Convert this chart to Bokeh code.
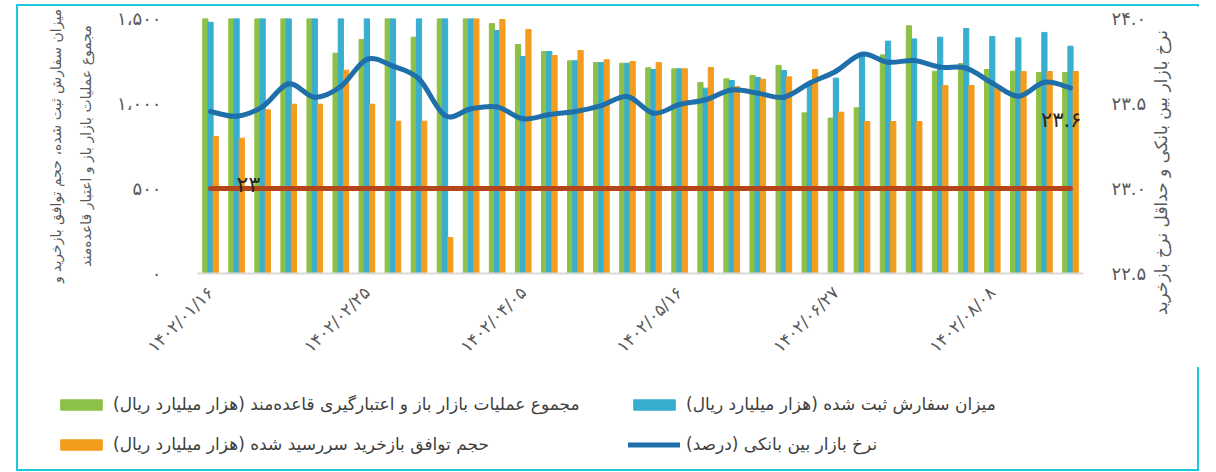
import math
from bokeh.plotting import figure
from bokeh.layouts import column, row
from bokeh.models import Range1d, LinearAxis, FixedTicker, Legend, LegendItem, ColumnDataSource, Label
from bokeh.transform import dodge
from bokeh.core.properties import value
from bokeh.embed import file_html
from bokeh.resources import INLINE

# ---------------- data ----------------
week_index = list(range(34))
tick_positions = [0, 6, 12, 18, 24, 30]
tick_labels = ["۱۴۰۲/۰۱/۱۶", "۱۴۰۲/۰۲/۲۵", "۱۴۰۲/۰۴/۰۵", "۱۴۰۲/۰۵/۱۶", "۱۴۰۲/۰۶/۲۷", "۱۴۰۲/۰۸/۰۸"]

open_market_ops = [1500, 1500, 1500, 1500, 1500, 1296, 1376, 1500, 1390, 1500, 1500, 1470,
                   1347, 1306, 1251, 1241, 1237, 1210, 1204, 1124, 1145, 1165, 1224, 945,
                   914, 975, 1286, 1457, 1190, 1235, 1200, 1190, 1182, 1182]
orders_registered = [1478, 1500, 1500, 1500, 1500, 1500, 1500, 1500, 1500, 1500, 1500, 1429,
                     1276, 1306, 1251, 1241, 1237, 1200, 1204, 1090, 1135, 1153, 1194, 1116,
                     1149, 1290, 1367, 1380, 1390, 1441, 1394, 1386, 1418, 1337]
repo_matured = [806, 796, 963, 996, 996, 1196, 996, 896, 896, 212, 1500, 1494,
                1435, 1282, 1312, 1257, 1247, 1241, 1204, 1212, 1100, 1143, 1157, 1200,
                949, 894, 894, 894, 1106, 1106, 1106, 1188, 1188, 1188]
interbank_rate = [23.453, 23.425, 23.482, 23.616, 23.537, 23.600, 23.760, 23.720, 23.645, 23.429,
                  23.469, 23.480, 23.410, 23.435, 23.453, 23.488, 23.541, 23.443, 23.494, 23.522,
                  23.580, 23.561, 23.537, 23.620, 23.690, 23.790, 23.743, 23.753, 23.714, 23.708,
                  23.620, 23.543, 23.625, 23.592]
min_repo_rate = [23.0, 23.0, 23.0, 23.0, 23.0, 23.0, 23.0, 23.0, 23.0, 23.0, 23.0, 23.0,
                 23.0, 23.0, 23.0, 23.0, 23.0, 23.0, 23.0, 23.0, 23.0, 23.0, 23.0, 23.0,
                 23.0, 23.0, 23.0, 23.0, 23.0, 23.0, 23.0, 23.0, 23.0, 23.0]

left_ticks = [0, 500, 1000, 1500]
left_tick_labels = ["۰", "۵۰۰", "۱،۰۰۰", "۱،۵۰۰"]
right_ticks = [22.5, 23.0, 23.5, 24.0]
right_tick_labels = ["۲۲.۵", "۲۳.۰", "۲۳.۵", "۲۴.۰"]

name_green = "مجموع عملیات بازار باز و اعتبارگیری قاعده‌مند (هزار میلیارد ریال)"
name_blue = "میزان سفارش ثبت شده (هزار میلیارد ریال)"
name_orange = "حجم توافق بازخرید سررسید شده (هزار میلیارد ریال)"
name_line = "نرخ بازار بین بانکی (درصد)"
left_title_1 = "میزان سفارش ثبت شده، حجم توافق بازخرید و"
left_title_2 = "مجموع عملیات بازار باز و اعتبار قاعده‌مند"
right_title = "نرخ بازار بین بانکی و حداقل نرخ بازخرید"
red_label_index = 1
red_label_text = "۲۳"
line_label_index = 33
line_label_text = "۲۳.۶"

# ---------------- styles ----------------
GREEN = "#8DC046"
BLUE = "#38AED0"
ORANGE = "#F39C1E"
LINE_BLUE = "#1F6FAB"
RED = "#B5461A"
TEXT = "#595959"
FONT = "DejaVu Sans"

src = ColumnDataSource(dict(x=week_index, g=open_market_ops, b=orders_registered, o=repo_matured,
                            r=interbank_rate, m=min_repo_rate))

p = figure(width=1132, height=361, output_backend="svg", toolbar_location=None,
           x_range=Range1d(-0.5, 33.5), y_range=Range1d(0, 1500),
           min_border_left=179, min_border_right=67, min_border_top=12, min_border_bottom=94)
p.extra_y_ranges = {"right": Range1d(22.5, 24.0)}
p.outline_line_color = None
p.xgrid.visible = False
p.ygrid.visible = False
p.background_fill_color = "white"

w = 0.2
p.vbar(x=dodge("x", -w, range=p.x_range), top="g", width=w, source=src, color=GREEN)
p.vbar(x=dodge("x", 0, range=p.x_range), top="b", width=w, source=src, color=BLUE)
p.vbar(x=dodge("x", w, range=p.x_range), top="o", width=w, source=src, color=ORANGE)

p.line("x", "m", source=src, y_range_name="right", line_color=RED, line_width=5, line_cap="round")

# smooth line (Catmull-Rom drawn as Bezier segments through the data points)
n = len(week_index)
bz = dict(x0=[], y0=[], x1=[], y1=[], cx0=[], cy0=[], cx1=[], cy1=[])
for i in range(n - 1):
    xa, ya = week_index[i], interbank_rate[i]
    xb, yb = week_index[i + 1], interbank_rate[i + 1]
    xp, yp = (week_index[i - 1], interbank_rate[i - 1]) if i > 0 else (xa, ya)
    xn, yn = (week_index[i + 2], interbank_rate[i + 2]) if i + 2 < n else (xb, yb)
    bz["x0"].append(xa); bz["y0"].append(ya)
    bz["x1"].append(xb); bz["y1"].append(yb)
    bz["cx0"].append(xa + (xb - xp) / 6); bz["cy0"].append(ya + (yb - yp) / 6)
    bz["cx1"].append(xb - (xn - xa) / 6); bz["cy1"].append(yb - (yn - ya) / 6)
p.bezier(source=ColumnDataSource(bz), x0="x0", y0="y0", x1="x1", y1="y1",
         cx0="cx0", cy0="cy0", cx1="cx1", cy1="cy1", y_range_name="right",
         line_color=LINE_BLUE, line_width=5, line_cap="round")

# data labels
p.text(x=[week_index[red_label_index]], y=[min_repo_rate[red_label_index]], text=[red_label_text],
       y_range_name="right", text_align="left", text_baseline="middle", y_offset=-4,
       text_font=value(FONT), text_font_size="22px", text_color="#262626")
p.text(x=[week_index[line_label_index]], y=[interbank_rate[line_label_index]], text=[line_label_text],
       y_range_name="right", text_align="right", text_baseline="middle", x_offset=11, y_offset=32,
       text_font=value(FONT), text_font_size="21px", text_color="#262626")

# axes
xa_ = p.xaxis[0]
xa_.ticker = FixedTicker(ticks=tick_positions)
xa_.major_label_overrides = {t: l for t, l in zip(tick_positions, tick_labels)}
xa_.major_label_orientation = math.pi / 4
xa_.axis_line_color = "#D9D9D9"
xa_.axis_line_width = 2
xa_.major_tick_line_color = None
xa_.minor_tick_line_color = None
xa_.major_label_standoff = 10
xa_.major_label_text_font = FONT
xa_.major_label_text_font_size = "17px"
xa_.major_label_text_color = TEXT

ya_ = p.yaxis[0]
ya_.ticker = FixedTicker(ticks=left_ticks)
ya_.major_label_overrides = {t: l for t, l in zip(left_ticks, left_tick_labels)}
ya_.axis_line_color = None
ya_.major_tick_line_color = None
ya_.minor_tick_line_color = None
ya_.major_label_standoff = 30
ya_.major_label_text_font = FONT
ya_.major_label_text_font_size = "18px"
ya_.major_label_text_color = TEXT
ya_.axis_label = left_title_1 + "\n" + left_title_2
ya_.axis_label_standoff = 20
ya_.axis_label_text_font = FONT
ya_.axis_label_text_font_size = "14px"
ya_.axis_label_text_font_style = "normal"
ya_.axis_label_text_color = TEXT
ya_.axis_label_text_line_height = 1.9

ra = LinearAxis(y_range_name="right", ticker=FixedTicker(ticks=right_ticks))
ra.major_label_overrides = {t: l for t, l in zip(right_ticks, right_tick_labels)}
ra.axis_line_color = None
ra.major_tick_line_color = None
ra.minor_tick_line_color = None
ra.major_label_standoff = 22
ra.major_label_text_font = FONT
ra.major_label_text_font_size = "18px"
ra.major_label_text_color = TEXT
p.add_layout(ra, "right")

# right-hand axis title in its own narrow strip (reads bottom-to-top like the left title)
r = figure(width=51, height=361, output_backend="svg", toolbar_location=None,
           x_axis_location=None, y_axis_location=None,
           x_range=Range1d(0, 1), y_range=Range1d(0, 1),
           min_border_left=0, min_border_right=0, min_border_top=0, min_border_bottom=0)
r.outline_line_color = None
r.xgrid.visible = False
r.ygrid.visible = False
r.add_layout(Label(x=10, y=195, x_units="screen", y_units="screen", text=right_title,
                   angle=math.pi / 2, text_align="center", text_baseline="middle",
                   text_font=FONT, text_font_size="17px", text_color=TEXT))

# legend strip under the chart (its own frame spans the whole strip)
q = figure(width=1183, height=102, output_backend="svg", toolbar_location=None,
           x_axis_location=None, y_axis_location=None,
           x_range=Range1d(-0.5, 33.5), y_range=Range1d(5000, 6000),
           min_border_left=0, min_border_right=0, min_border_top=0, min_border_bottom=0)
for fig in (p, q, r):
    try:
        fig.frame_align = False
    except Exception:
        pass
q.outline_line_color = None
q.xgrid.visible = False
q.ygrid.visible = False
lg_g = q.vbar(x="x", top="g", width=w, source=src, color=GREEN)
lg_b = q.vbar(x="x", top="b", width=w, source=src, color=BLUE)
lg_o = q.vbar(x="x", top="o", width=w, source=src, color=ORANGE)
lg_l = q.line(x="x", y="r", source=src, line_color=LINE_BLUE, line_width=5, line_cap="round")


def make_legend(items, vx):
    lg = Legend(items=items, location=(vx, 15), orientation="vertical",
                glyph_width=52, glyph_height=13, label_height=20, spacing=20,
                label_standoff=6, padding=0, margin=0,
                border_line_color=None, background_fill_alpha=0,
                label_text_font=FONT, label_text_font_size="17px", label_text_color="#404040")
    q.add_layout(lg, "center")


make_legend([LegendItem(label=name_green, renderers=[lg_g]), LegendItem(label=name_orange, renderers=[lg_o])], 37)
make_legend([LegendItem(label=name_blue, renderers=[lg_b]), LegendItem(label=name_line, renderers=[lg_l])], 610)

layout = column(row(p, r, spacing=0), q, spacing=0, width=1183,
                styles={"border": "2px solid #1EC8DA", "margin-left": "16px", "margin-top": "4px"})

open("out.html", "w").write(file_html(layout, INLINE))
